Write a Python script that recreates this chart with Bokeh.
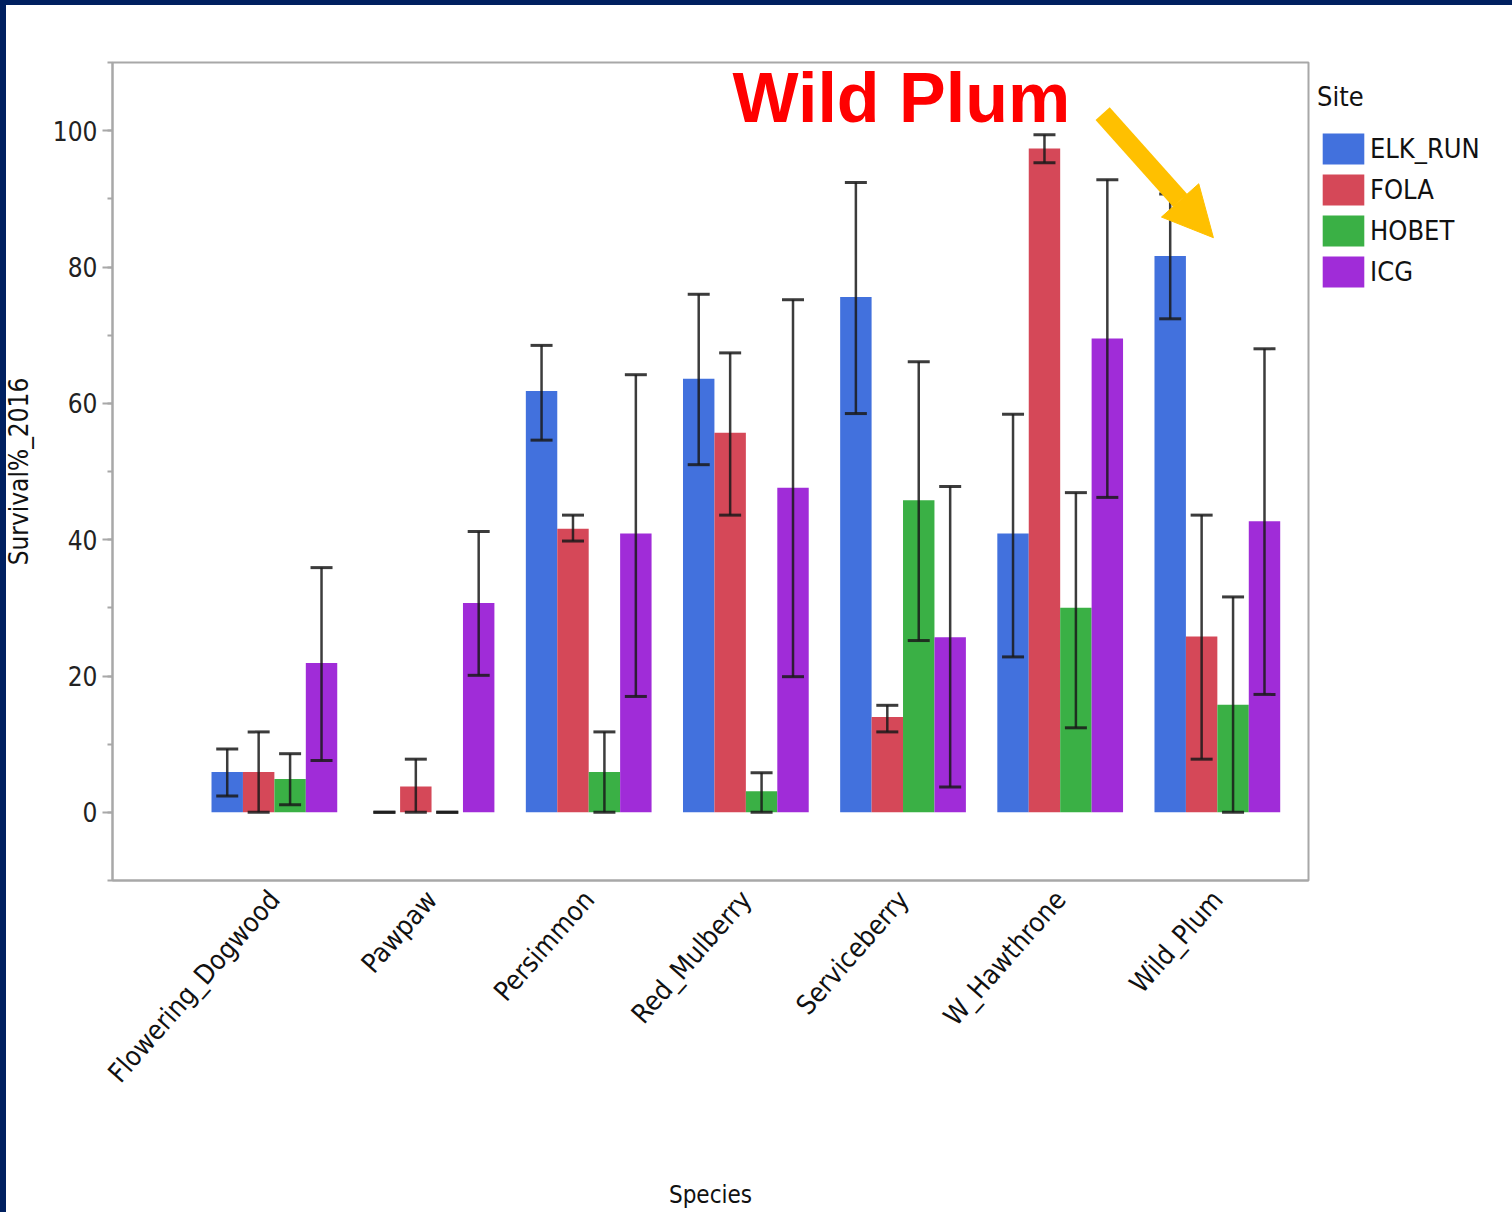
from bokeh.plotting import figure
from bokeh.models import (ColumnDataSource, FixedTicker, SingleIntervalTicker,
                          Legend, LegendItem, Label, Arrow, NormalHead, Range1d)
from bokeh.transform import dodge
from bokeh.embed import file_html
from bokeh.resources import INLINE

# ---------------- data ----------------
species = ["Flowering_Dogwood", "Pawpaw", "Persimmon", "Red_Mulberry",
           "Serviceberry", "W_Hawthrone", "Wild_Plum"]
sites = ["ELK_RUN", "FOLA", "HOBET", "ICG"]

elk_run = [5.9, 0.0, 61.8, 63.6, 75.6, 40.9, 81.6]
elk_run_lo = [2.4, 0.0, 54.6, 51.0, 58.5, 22.8, 72.4]
elk_run_hi = [9.3, 0.0, 68.5, 76.0, 92.4, 58.4, 90.7]

fola = [5.9, 3.8, 41.6, 55.7, 14.0, 97.4, 25.8]
fola_lo = [0.0, 0.0, 39.8, 43.6, 11.8, 95.3, 7.8]
fola_hi = [11.8, 7.8, 43.6, 67.4, 15.7, 99.4, 43.6]

hobet = [4.9, 0.0, 5.9, 3.1, 45.8, 30.0, 15.8]
hobet_lo = [1.1, 0.0, 0.0, 0.0, 25.2, 12.4, 0.0]
hobet_hi = [8.6, 0.0, 11.8, 5.8, 66.1, 46.9, 31.6]

icg = [21.9, 30.7, 40.9, 47.6, 25.7, 69.5, 42.7]
icg_lo = [7.6, 20.1, 17.0, 19.9, 3.7, 46.2, 17.3]
icg_hi = [35.9, 41.2, 64.2, 75.2, 47.8, 92.8, 68.0]

# ---------------- style ----------------
colors = ["#4271DD", "#D54858", "#3AB045", "#A02CD8"]
FONT = "'DejaVu Sans Condensed', 'Liberation Sans', sans-serif"
AXIS_GRAY = "#A8A8A8"
ERR_COLOR = "#1A1A1A"

idx = list(range(1, len(species) + 1))
source = ColumnDataSource(dict(
    idx=idx,
    ELK_RUN=elk_run, ELK_RUN_lo=elk_run_lo, ELK_RUN_hi=elk_run_hi,
    FOLA=fola, FOLA_lo=fola_lo, FOLA_hi=fola_hi,
    HOBET=hobet, HOBET_lo=hobet_lo, HOBET_hi=hobet_hi,
    ICG=icg, ICG_lo=icg_lo, ICG_hi=icg_hi,
))

p = figure(frame_width=1196, frame_height=818, output_backend="svg", toolbar_location=None,
           x_range=Range1d(-0.03, 7.58), y_range=Range1d(-10, 110),
           min_border_left=112, min_border_top=62, min_border_right=196,
           min_border_bottom=320)
p.styles = {"background-color": "white", "box-shadow": "inset 6px 5px 0 0 #002060"}
p.background_fill_color = "white"
p.border_fill_alpha = 0
p.outline_line_color = AXIS_GRAY
p.outline_line_width = 2
p.xgrid.visible = False
p.ygrid.visible = False

offsets = [-0.3, -0.1, 0.1, 0.3]
bar_w = 0.2
renderers = []
for site, off, col in zip(sites, offsets, colors):
    r = p.vbar(x=dodge("idx", off, range=p.x_range), top=site, width=bar_w,
               source=source, fill_color=col, line_color=None)
    renderers.append(r)
for site, off in zip(sites, offsets):
    xs = dodge("idx", off, range=p.x_range)
    p.segment(x0=xs, x1=xs, y0=site + "_lo", y1=site + "_hi", source=source,
              line_color=ERR_COLOR, line_width=2.5, line_alpha=0.85)
    for end in ("_lo", "_hi"):
        p.scatter(x=xs, y=site + end, source=source, marker="dash", size=22,
                  line_color=ERR_COLOR, line_width=3, line_alpha=0.85)

# axes
xa = p.xaxis[0]
xa.ticker = FixedTicker(ticks=idx)
xa.major_label_overrides = {i: s for i, s in zip(idx, species)}
xa.major_label_orientation = 0.85
xa.major_label_text_font = FONT
xa.major_label_text_font_size = "27px"
xa.major_label_text_color = "#111111"
xa.major_tick_line_color = None
xa.minor_tick_line_color = None
xa.axis_line_color = AXIS_GRAY
xa.axis_line_width = 2
xa.major_label_standoff = 8
xa.axis_label = "Species"
xa.axis_label_text_font = FONT
xa.axis_label_text_font_size = "24px"
xa.axis_label_text_font_style = "normal"
xa.axis_label_text_color = "#111111"
xa.axis_label_standoff = 80

ya = p.yaxis[0]
ya.ticker = SingleIntervalTicker(interval=20, num_minor_ticks=2)
ya.major_label_text_font = FONT
ya.major_label_text_font_size = "26px"
ya.major_label_text_color = "#222222"
ya.major_tick_line_color = AXIS_GRAY
ya.major_tick_line_width = 2
ya.major_tick_out = 10
ya.major_tick_in = 0
ya.minor_tick_line_color = AXIS_GRAY
ya.minor_tick_line_width = 2
ya.minor_tick_out = 5
ya.minor_tick_in = 0
ya.axis_line_color = AXIS_GRAY
ya.axis_line_width = 2
ya.major_label_standoff = 5
ya.axis_label = "Survival%_2016"
ya.axis_label_text_font = FONT
ya.axis_label_text_font_size = "26px"
ya.axis_label_text_font_style = "normal"
ya.axis_label_text_color = "#111111"
ya.axis_label_standoff = 16

# legend in the right-hand panel
items = [LegendItem(label=s, renderers=[r]) for s, r in zip(sites, renderers)]
legend = Legend(items=items, title="Site", location=(9, 589))
legend.title_text_font = FONT
legend.title_text_font_size = "27px"
legend.title_text_font_style = "normal"
legend.title_text_color = "#111111"
legend.title_standoff = 17
legend.label_text_font = FONT
legend.label_text_font_size = "27px"
legend.label_text_color = "#111111"
legend.glyph_width = 52
legend.glyph_height = 39
legend.label_height = 39
legend.spacing = 2
legend.label_standoff = 1
legend.padding = 0
legend.margin = 0
legend.border_line_color = None
legend.background_fill_alpha = 0
p.add_layout(legend, "right")

# annotation
note_text = "Wild Plum"
note_x, note_y = 3.915, 104.8
arrow_x0, arrow_y0, arrow_x1, arrow_y1 = 6.27, 102.5, 6.975, 84.3
p.add_layout(Label(x=note_x, y=note_y, text=note_text, text_font="Liberation Sans",
                   text_font_size="70px", text_font_style="bold", text_color="#FF0000",
                   text_baseline="alphabetic"))
p.add_layout(Arrow(x_start=arrow_x0, y_start=arrow_y0, x_end=arrow_x1, y_end=arrow_y1,
                   line_color="#FFC000", line_width=19,
                   end=NormalHead(size=50, fill_color="#FFC000", line_color="#FFC000",
                                  line_width=1)))

open("out.html", "w").write(file_html(p, INLINE))
